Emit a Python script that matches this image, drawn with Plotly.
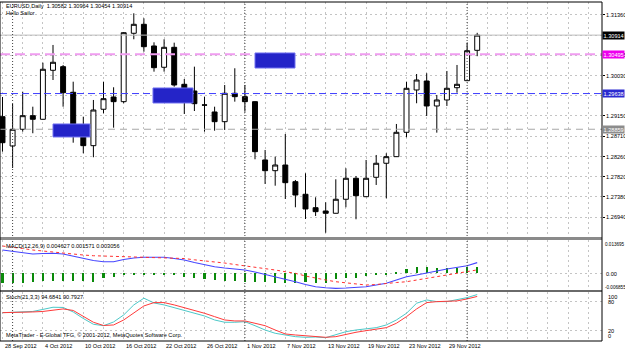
import plotly.graph_objects as go

# ---------------- data ----------------
date_labels = ["28 Sep 2012", "4 Oct 2012", "10 Oct 2012", "16 Oct 2012", "22 Oct 2012",
               "26 Oct 2012", "1 Nov 2012", "7 Nov 2012", "13 Nov 2012", "19 Nov 2012",
               "23 Nov 2012", "29 Nov 2012"]
label_bars = [0, 4, 8, 12, 16, 20, 24, 28, 32, 36, 40, 44]
month_starts = [1, 24, 46]

opens = [1.29133, 1.28493, 1.28858, 1.29155, 1.29076, 1.30146, 1.30225, 1.29666, 1.28843, 1.28500,
         1.29295, 1.29563, 1.29461, 1.30954, 1.31150, 1.30677, 1.30212, 1.30648, 1.29840, 1.29694,
         1.29390, 1.29236, 1.29024, 1.29644, 1.29570, 1.29461, 1.28188, 1.27954, 1.28078, 1.27714,
         1.27439, 1.27146, 1.27074, 1.27024, 1.27330, 1.27788, 1.27386, 1.27810, 1.28116, 1.28260,
         1.28792, 1.29716, 1.29912, 1.29367, 1.29498, 1.29766, 1.29919, 1.30582]
highs = [1.29563, 1.29410, 1.29679, 1.29351, 1.30312, 1.30699, 1.30262, 1.29897, 1.29133, 1.29498,
         1.29897, 1.29775, 1.30980, 1.31391, 1.31281, 1.30757, 1.30823, 1.30749, 1.29956, 1.30225,
         1.29570, 1.29351, 1.29825, 1.30190, 1.29825, 1.29470, 1.28406, 1.28260, 1.28755, 1.27751,
         1.27897, 1.27373, 1.27264, 1.27766, 1.28006, 1.27838, 1.28188, 1.28297, 1.28334, 1.28974,
         1.29897, 1.30065, 1.30081, 1.29607, 1.30131, 1.30262, 1.30749, 1.30964]
lows = [1.28369, 1.28013, 1.28806, 1.28771, 1.29070, 1.29934, 1.29351, 1.28565, 1.28334, 1.28247,
        1.29207, 1.28893, 1.29426, 1.30823, 1.30552, 1.30116, 1.30116, 1.29788, 1.29192, 1.29257,
        1.28806, 1.28827, 1.28843, 1.29461, 1.29242, 1.28203, 1.27664, 1.27626, 1.27336, 1.27155,
        1.26899, 1.26965, 1.26600, 1.27020, 1.27155, 1.26893, 1.27380, 1.27642, 1.27351, 1.28255,
        1.28683, 1.29426, 1.29148, 1.28784, 1.29367, 1.29657, 1.29915, 1.30454]
closes = [1.28565, 1.28858, 1.29155, 1.29076, 1.30168, 1.30321, 1.29657, 1.28886, 1.28500, 1.29279,
          1.29526, 1.29461, 1.30967, 1.31150, 1.30661, 1.30203, 1.30648, 1.29825, 1.29694, 1.29417,
          1.29386, 1.29024, 1.29644, 1.29570, 1.29461, 1.28369, 1.27954, 1.28078, 1.27692, 1.27423,
          1.27118, 1.27059, 1.27024, 1.27330, 1.27788, 1.27408, 1.27788, 1.28116, 1.28260, 1.28792,
          1.29753, 1.29934, 1.29367, 1.29498, 1.29753, 1.29840, 1.30574, 1.30914]

macd_main = [0.00958, 0.00896, 0.00834, 0.00793, 0.00814, 0.00822, 0.00793, 0.00711, 0.00617, 0.00526,
             0.00477, 0.00477, 0.00567, 0.00629, 0.00658, 0.00658, 0.00658, 0.00608, 0.00547, 0.00444,
             0.00353, 0.00271, 0.00218, 0.00177, 0.00136, 0.00053, -0.00041, -0.00152, -0.00255, -0.00345,
             -0.00460, -0.00551, -0.00592, -0.00617, -0.00604, -0.00584, -0.00551, -0.00481, -0.00411, -0.00275,
             -0.00140, -0.00070, 0.00000, 0.00095, 0.00177, 0.00247, 0.00312, 0.00440]
macd_signal = [0.01122, 0.01081, 0.01019, 0.00958, 0.00917, 0.00863, 0.00814, 0.00773, 0.00752, 0.00723,
               0.00711, 0.00691, 0.00678, 0.00670, 0.00658, 0.00658, 0.00658, 0.00649, 0.00608, 0.00555,
               0.00514, 0.00477, 0.00423, 0.00362, 0.00312, 0.00259, 0.00206, 0.00136, 0.00066, 0.00000,
               -0.00111, -0.00206, -0.00275, -0.00345, -0.00399, -0.00448, -0.00481, -0.00460, -0.00411, -0.00378,
               -0.00345, -0.00275, -0.00206, -0.00140, -0.00070, 0.00000, 0.00066, 0.00140]
macd_hist = [-0.0038, -0.0038, -0.0038, -0.0034, -0.0032, -0.0032, -0.0032, -0.0032, -0.0032, -0.0034,
             -0.0021, -0.0014, -0.0005, -0.0003, -0.0003, -0.0003, -0.0003, -0.0004, -0.0017, -0.0021,
             -0.0025, -0.0028, -0.0030, -0.0032, -0.0034, -0.0034, -0.0036, -0.0038, -0.0041, -0.0041,
             -0.0037, -0.0039, -0.0039, -0.0025, -0.0021, -0.0021, -0.0010, -0.0003, -0.0003, 0.0007,
             0.0016, 0.0025, 0.0025, 0.0021, 0.0021, 0.0021, 0.0027, 0.0027]

stoch_main = [57.3, 57.8, 58.8, 59.8, 64.0, 68.5, 68.1, 58.8, 45.3, 33.3,
              30.4, 38.1, 52.6, 73.3, 87.2, 77.4, 73.3, 67.7, 62.9, 57.3,
              50.5, 42.2, 37.5, 37.5, 38.7, 30.4, 21.5, 14.7, 11.2, 7.7,
              6.4, 7.0, 5.6, 11.2, 18.0, 21.5, 23.6, 26.3, 31.9, 42.2,
              56.1, 76.8, 83.6, 80.1, 80.1, 83.6, 88.4, 94.7]
stoch_signal = [57.3, 57.3, 57.8, 58.8, 59.8, 62.9, 65.0, 61.9, 49.1, 37.5,
                30.8, 31.9, 42.2, 56.1, 71.2, 78.1, 78.1, 73.3, 67.7, 62.9,
                56.1, 49.1, 42.2, 40.2, 40.2, 35.4, 30.4, 21.5, 13.3, 11.2,
                9.7, 9.1, 6.4, 7.7, 12.6, 16.8, 20.1, 23.0, 26.3, 35.4,
                49.1, 65.0, 78.1, 80.1, 80.1, 81.6, 85.7, 90.8]

price_ticks = [1.31360, 1.30915, 1.30475, 1.30030, 1.29590, 1.29150, 1.28710,
               1.28260, 1.27820, 1.27380, 1.26940, 1.26500]
hidden_ticks = [1.30915, 1.29590]   # covered by the coloured level labels
bid_price = 1.30914
level_pink = 1.30495
level_blue = 1.29638
level_gray = 1.28859
# text boxes (bar start, bar end, price top, price bottom)
boxes = [(25.0, 28.96, 1.30524, 1.30196), (14.9, 18.86, 1.29760, 1.29432), (5.0, 8.66, 1.28974, 1.28690)]

bars = list(range(len(opens)))

# ---------------- layout helpers ----------------
W, H = 625, 351
ML, MR, MT, MB = 0, 23, 2, 10
PW, PH = W - ML - MR, H - MT - MB
BOT = MT + PH


def py(y):
    return (BOT - y) / PH


def px(x):
    return (x - ML) / PW


FONT = "Liberation Sans"
fs = 5.6

fig = go.Figure()

fig.add_trace(go.Candlestick(
    x=bars, open=opens, high=highs, low=lows, close=closes,
    increasing=dict(line=dict(color="black", width=1), fillcolor="white"),
    decreasing=dict(line=dict(color="black", width=1), fillcolor="black"),
    whiskerwidth=0, xaxis="x", yaxis="y", showlegend=False, hoverinfo="skip"))

fig.add_trace(go.Bar(x=bars, y=macd_hist, marker=dict(color="#0a8a0a", line=dict(width=0)),
                     width=0.2, xaxis="x2", yaxis="y2", showlegend=False))
fig.add_trace(go.Scatter(x=bars, y=macd_main, mode="lines", line=dict(color="#4646ff", width=1.1),
                         xaxis="x2", yaxis="y2", showlegend=False))
fig.add_trace(go.Scatter(x=bars, y=macd_signal, mode="lines", line=dict(color="#ff3030", width=1, dash="dot"),
                         xaxis="x2", yaxis="y2", showlegend=False))

fig.add_trace(go.Scatter(x=bars, y=stoch_main, mode="lines", line=dict(color="#4cc8c8", width=1),
                         xaxis="x3", yaxis="y3", showlegend=False))
fig.add_trace(go.Scatter(x=bars, y=stoch_signal, mode="lines", line=dict(color="#ff3a3a", width=1),
                         xaxis="x3", yaxis="y3", showlegend=False))

xr = [(-2.5) / 10.1, (PW - 2.5) / 10.1]
grid = dict(showgrid=True, gridcolor="#c4c4c4", griddash="2px,3px", gridwidth=1)
xcommon = dict(range=xr, tick0=0, dtick=2, showticklabels=False, ticks="", zeroline=False,
               domain=[0, 1], **grid)

fig.update_layout(
    width=W, height=H, margin=dict(l=ML, r=MR, t=MT, b=MB),
    paper_bgcolor="white", plot_bgcolor="white",
    xaxis=dict(anchor="y", rangeslider=dict(visible=False), **xcommon),
    xaxis2=dict(anchor="y2", matches="x", **xcommon),
    xaxis3=dict(anchor="y3", matches="x", **xcommon),
    yaxis=dict(domain=[py(237), 1], range=[1.26506, 1.31637], side="right",
               tickvals=price_ticks,
               ticktext=["" if v in hidden_ticks else f"{v:.5f}" for v in price_ticks],
               ticks="outside", ticklen=2, tickcolor="black",
               tickfont=dict(family=FONT, size=fs, color="black"),
               zeroline=False, **grid),
    yaxis2=dict(domain=[py(290), py(240)], range=[-0.006855, 0.013695], side="right",
                tickvals=[0], showticklabels=False, ticks="", zeroline=False, **grid),
    yaxis3=dict(domain=[0, py(292)], range=[-1.24, 100], side="right",
                tickvals=[20, 80], showticklabels=False, ticks="", zeroline=False, **grid),
    bargap=0, showlegend=False,
)

shapes = []
# horizontal lines in main pane
shapes.append(dict(type="line", xref="paper", yref="y", x0=0, x1=1, y0=bid_price, y1=bid_price,
                   line=dict(color="#bdbdbd", width=1)))
shapes.append(dict(type="line", xref="paper", yref="y", x0=0, x1=1, y0=level_pink, y1=level_pink,
                   line=dict(color="#f09cf0", width=2, dash="10px,5px")))
shapes.append(dict(type="line", xref="paper", yref="y", x0=0, x1=1, y0=level_blue, y1=level_blue,
                   line=dict(color="#3c3cff", width=1, dash="7px,4px")))
shapes.append(dict(type="line", xref="paper", yref="y", x0=0, x1=1, y0=level_gray, y1=level_gray,
                   line=dict(color="#a8a8a8", width=1.2, dash="7px,5px")))
# period separators
for m in month_starts:
    shapes.append(dict(type="line", xref="x", yref="paper", x0=m, x1=m, y0=0, y1=1,
                       line=dict(color="#404040", width=1, dash="1px,2px")))
# blue text boxes
for (b0, b1, p0, p1) in boxes:
    shapes.append(dict(type="rect", xref="x", yref="y", x0=b0, x1=b1, y0=p1, y1=p0,
                       fillcolor="#2424c8", line=dict(color="#7070f0", width=1)))
# pane separators
shapes.append(dict(type="rect", xref="paper", yref="paper", x0=0, x1=1, y0=py(240), y1=py(237),
                   fillcolor="#8a8a8a", line=dict(width=0)))
shapes.append(dict(type="rect", xref="paper", yref="paper", x0=0, x1=1, y0=py(292), y1=py(290),
                   fillcolor="#6a6a6a", line=dict(width=0)))
# frame
shapes.append(dict(type="rect", xref="paper", yref="paper", x0=0, x1=1, y0=0, y1=1,
                   line=dict(color="black", width=1)))
fig.update_layout(shapes=shapes)

ann = []


def txt(x, y, s, anchor="left", color="black", size=fs, bg=None):
    d = dict(xref="paper", yref="paper", x=px(x), y=py(y), text=s, showarrow=False,
             xanchor=anchor, yanchor="middle", font=dict(family=FONT, size=size, color=color))
    if bg:
        d.update(bgcolor=bg, borderpad=0)
    ann.append(d)


txt(4, 6, "EURUSD,Daily  1.30582 1.30964 1.30454 1.30914")
txt(4, 13.5, "Hello Sailor")
txt(4, 246, "MACD(12,26,9) 0.004627 0.001571 0.003056")
txt(4, 297, "Stoch(21,3,3) 94.6841 90.7927")
txt(4, 335, "MetaTrader - E-Global TFG, © 2001-2012, MetaQuotes Software Corp.")

# right-side price labels with coloured backgrounds
for price, bg in [(bid_price, "#000000"), (level_pink, "#ee00ee"), (level_blue, "#2a2ad0"), (level_gray, "#8c8c8c")]:
    ann.append(dict(xref="paper", yref="y", x=1.0, y=price, text=f"{price:.5f}", showarrow=False,
                    xanchor="left", yanchor="middle", bgcolor=bg, borderpad=0.5,
                    font=dict(family=FONT, size=fs, color="white")))

# MACD / Stoch scale labels
txt(602.5, 244, "0.013695", size=4.6)
txt(604, 274, "0.00")
txt(602.5, 287.5, "-0.006855", size=4.6)
txt(606, 296.5, "100")
txt(606, 301.5, "80")
txt(606, 330.5, "20")
txt(606, 335.5, "0")

# date labels
for b, lab in zip(label_bars, date_labels):
    ann.append(dict(xref="x3", yref="paper", x=b, y=py(346), text=lab, showarrow=False,
                    xanchor="left", yanchor="middle", font=dict(family=FONT, size=fs, color="black")))

fig.update_layout(annotations=ann)
fig.write_html("out.html")
